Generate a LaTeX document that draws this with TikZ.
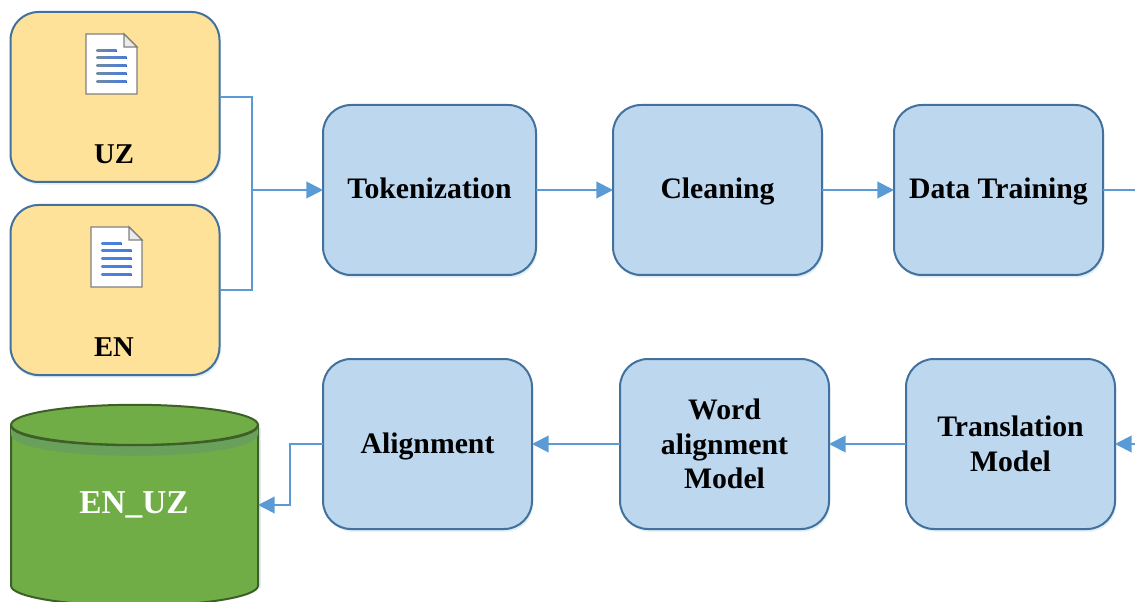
\documentclass[tikz,border=0pt]{standalone}
\usepackage{fontspec}
\setmainfont{Liberation Serif}
\usepackage{xcolor}
\usetikzlibrary{shapes.geometric,positioning,calc,shadows,arrows.meta}
\definecolor{boxblue}{HTML}{BDD7EE}
\definecolor{boxedge}{HTML}{41719C}
\definecolor{srcyellow}{HTML}{FFE299}
\definecolor{linkblue}{HTML}{5B9BD5}
\definecolor{dbgreen}{HTML}{70AD47}
\definecolor{dbband}{HTML}{69A05A}
\definecolor{dbedge}{HTML}{3F5F28}

\begin{document}
\begin{tikzpicture}[x=0.75pt, y=-0.75pt,
        softshadow/.style={drop shadow={shadow xshift=1pt, shadow yshift=-2pt, opacity=.18, fill=linkblue}},
        block/.style={draw=boxedge, fill=boxblue, line width=1.5pt, rounded corners=21pt, outer sep=0pt,
            minimum width=156.75pt, minimum height=127.5pt, align=center, softshadow,
            font=\fontsize{22.3}{26}\selectfont\bfseries},
        oneline/.style={text height=16.5pt, text depth=3pt},
        source/.style={block, fill=srcyellow},
        caption/.style={font=\fontsize{21.5}{26}\selectfont\bfseries},
        storename/.style={text=white, font=\fontsize{25}{30}\selectfont\bfseries},
        store/.style={storename, cylinder, shape border rotate=90, aspect=0.34, draw=dbedge, line width=1.5pt,
            cylinder uses custom fill, cylinder body fill=dbgreen, cylinder end fill=dbgreen,
            minimum width=185.25pt, minimum height=150.75pt, outer sep=0pt},
        link/.style={draw=linkblue, line width=1.5pt},
        >={Triangle[length=12.5pt,width=12.5pt]},
        docicon/.pic={
            \draw[draw=gray, line width=1pt, fill=white] (-25.5,-30) -- (12.5,-30) -- (25.5,-17) -- (25.5,30) -- (-25.5,30) -- cycle;
            \draw[draw=gray, line width=1pt, fill=black!8] (12.5,-30) -- (12.5,-17) -- (25.5,-17) -- cycle;
            \fill[left color=#1, right color=linkblue!80!blue] (-15,-14) rectangle (5,-12);
            \foreach \yy in {-7,1,9,17}
                \fill[left color=#1, right color=linkblue!80!blue] (-15,\yy) rectangle (15,\yy+2);
        }
    ]
    \useasboundingbox (0,0) rectangle (1135,602);

    % Input files
    \node [source] (uz) at (115,97) {};
    \node [source, below=17.25pt of uz] (en) {};
    \pic at (111.5,64) {docicon=linkblue!40!gray};
    \pic at (116.5,257) {docicon=linkblue!85!blue};
    \node [caption] (uzname) at (114,154) {UZ};
    \node [caption] (enname) at (114,347) {EN};

    % Top row
    \node [block, oneline, minimum width=159.75pt] (tok) at (429.5,190) {Tokenization};
    \node [block, oneline, right=57.75pt of tok] (clean) {Cleaning};
    \node [block, oneline, right=54pt of clean] (train) {Data Training};

    % Bottom row
    \node [block] (trans) at (1010.5,444) {Translation\\Model};
    \node [block, left=57.75pt of trans] (wam) {Word\\alignment\\Model};
    \node [block, oneline, left=66pt of wam] (align) {Alignment};
    \fill [linkblue, opacity=.18] (20,428) rectangle (261,588);
    \node [store] (db) at (134.5,518.5) {\phantom{EN\_UZ}};
    \node [storename] (dbname) at (134,505) {EN\_UZ};

    % Band under the lid
    \fill [dbband] (11,426) .. controls (11,452) and (258,452) .. (258,426)
        -- (258,434) .. controls (258,463) and (11,463) .. (11,434) -- cycle;
    \draw [draw=dbedge, line width=1.5pt] (11,425) .. controls (11,452) and (258,452) .. (258,425);

    % Connections
    \coordinate (bus) at ($(tok.west)+(-71,0)$);
    \coordinate (trainout) at (1135,190);
    \coordinate (transin) at (1135,444);
    \draw [link] (uz.east) -| (bus) |- (en.east);
    \draw [link, ->] (bus) -- (tok.west);
    \draw [link, ->] (tok.east) -- (clean.west);
    \draw [link, ->] (clean.east) -- (train.west);
    \draw [link] (train.east) -- (trainout);
    \draw [link, ->] (transin) -- (trans.east);
    \draw [link, ->] (trans.west) -- (wam.east);
    \draw [link, ->] (wam.west) -- (align.east);
    \draw [link, ->] (align.west) -- ++(-33,0) |- (dbname -| db.east);
\end{tikzpicture}
\end{document}
